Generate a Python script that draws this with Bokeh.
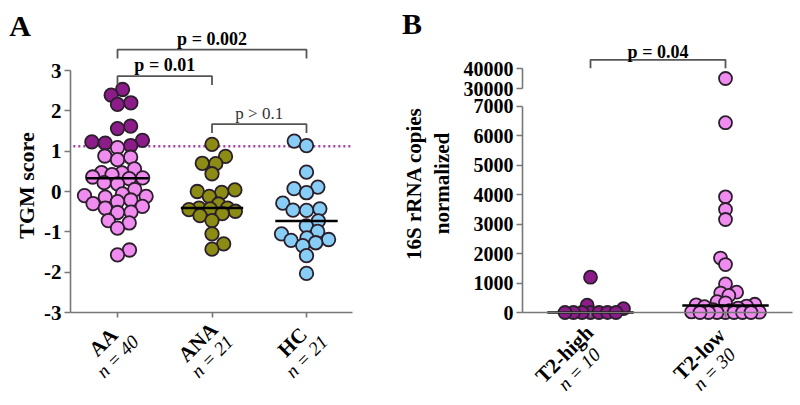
import math
import numpy as np
from bokeh.plotting import figure
from bokeh.models import Label, FixedTicker, Range1d, LinearAxis
from bokeh.layouts import row
from bokeh.embed import file_html
from bokeh.resources import INLINE

# ---------------- data: panel A (TGM score) ----------------
a_groups = ["AA", "ANA", "HC"]
a_n_labels = ["n = 40", "n = 21", "n = 21"]
aa_t2_high = [2.53, 2.39, 2.20, 2.16, 1.62, 1.56, 1.27, 1.23, 1.20, 1.14]
aa_t2_low = [1.09, 0.88, 0.85, 0.79, 0.56, 0.47, 0.46, 0.42, 0.36, 0.34,
             0.32, 0.22, 0.19, 0.05, -0.06, -0.10, -0.12, -0.14, -0.21, -0.25,
             -0.30, -0.37, -0.41, -0.51, -0.52, -0.72, -0.78, -0.91, -1.45, -1.57]
ana_scores = [1.17, 0.87, 0.70, 0.69, 0.44, 0.04, 0.00, -0.02, -0.12, -0.31,
              -0.41, -0.41, -0.43, -0.45, -0.49, -0.55, -0.60, -0.72, -1.05, -1.30, -1.43]
hc_scores = [1.25, 1.14, 0.48, 0.11, 0.07, -0.03, -0.29, -0.43, -0.46, -0.47,
             -0.73, -0.85, -0.99, -1.05, -1.15, -1.19, -1.21, -1.27, -1.34, -1.59, -2.03]
tgm_threshold = 1.12
a_ticks = [-3, -2, -1, 0, 1, 2, 3]
a_pairs = [(0, 2), (0, 1), (1, 2)]
a_pvalues = ["p = 0.002", "p = 0.01", "p > 0.1"]

# ---------------- data: panel B (16S rRNA copies) ----------------
b_groups = ["T2-high", "T2-low"]
b_n_labels = ["n = 10", "n = 30"]
t2_high_copies = [1200, 250, 130, 0, 0, 0, 0, 0, 0, 0]
t2_low_copies = [35000, 6450, 3930, 3500, 3160, 1850, 1630, 970, 690, 660,
                 580, 370, 330, 280, 260, 220, 200, 150, 100, 60,
                 30, 20, 10, 0, 0, 0, 0, 0, 0, 0]
b_low_ticks = [0, 1000, 2000, 3000, 4000, 5000, 6000, 7000]
b_up_ticks = [30000, 40000]
b_pvalue = "p = 0.04"

# ---------------- style ----------------
FONT = "Liberation Serif"
PURPLE = "#8c1c8a"
PINK = "#f08cf0"
OLIVE = "#8c8c14"
BLUE = "#88cdf6"
EDGE = "#2b1f2b"
AXIS = "#777777"
BRACKET = "#555555"


def swarm(ypx, sx, sy, cap):
    """beeswarm offsets (px): elliptical no-overlap zone sx wide, sy tall,
    lowest value first; offsets limited to +-cap (overlap allowed when crowded)"""
    ypx = np.asarray(ypx, float)
    order = np.argsort(ypx, kind="stable")
    placed = []
    offs = np.zeros(len(ypx))
    grid = np.arange(-cap, cap + 0.01, 0.5)
    for k, i in enumerate(order):
        y = ypx[i]
        cands = [0.0]
        for xj, yj in placed:
            dy = abs(y - yj)
            if dy < sy:
                dx = sx * math.sqrt(1 - (dy / sy) ** 2)
                cands.extend([xj + dx, xj - dx])
        sgn = 1 if k % 2 == 0 else -1
        cands.sort(key=lambda c: (round(abs(c), 6), sgn * c))
        chosen = None
        for c in cands:
            if abs(c) <= cap + 1e-6 and all(((c - xj) / sx) ** 2 + ((y - yj) / sy) ** 2 >= 1 - 1e-6
                                            for xj, yj in placed):
                chosen = c
                break
        if chosen is None:
            score = np.full(len(grid), np.inf)
            for xj, yj in placed:
                score = np.minimum(score, ((grid - xj) / sx) ** 2 + ((y - yj) / sy) ** 2)
            best = score.max()
            idx = np.where(score >= best - 1e-9)[0]
            chosen = grid[idx[np.argmin(np.abs(grid[idx]))]]
        offs[i] = chosen
        placed.append((chosen, y))
    return offs


def style_axis(ax, size, ticks):
    ax.ticker = FixedTicker(ticks=ticks)
    ax.axis_line_color = AXIS
    ax.axis_line_width = 1.6
    ax.major_tick_line_color = AXIS
    ax.major_tick_line_width = 1.6
    ax.major_tick_out = 6
    ax.major_tick_in = 0
    ax.minor_tick_line_color = None
    ax.major_label_text_font = FONT
    ax.major_label_text_font_style = "bold"
    ax.major_label_text_font_size = f"{size}px"
    ax.major_label_text_color = "black"
    ax.major_label_standoff = 3
    ax.major_label_overrides = {t: str(t) for t in ticks}


def base_fig(**kw):
    p = figure(output_backend="svg", toolbar_location=None,
               min_border_left=0, min_border_right=0, min_border_top=0, min_border_bottom=0, **kw)
    p.grid.visible = False
    p.outline_line_color = None
    p.background_fill_color = "white"
    p.border_fill_color = "white"
    return p


def text_label(p, **kw):
    kw.setdefault("text_font", FONT)
    kw.setdefault("text_color", "black")
    kw.setdefault("text_align", "center")
    kw.setdefault("text_baseline", "middle")
    p.add_layout(Label(**kw))


def cat_labels(p, xs, y, names, ns, along, perp_b, perp_n, size_b, size_n):
    c = math.sqrt(0.5)
    for x, nm, nn in zip(xs, names, ns):
        for text, perp, st, sz in [(nm, perp_b, "bold", size_b), (nn, perp_n, "italic", size_n)]:
            dx = (along + perp) * c
            dy = (-along + perp) * c
            text_label(p, x=x, y=y, text=text, x_offset=dx, y_offset=-dy, angle=math.pi / 4,
                       text_font_style=st, text_font_size=f"{sz}px")


# ================= Panel A =================
A_PX_X = 94.5      # px per category step
A_PX_Y = 40.33     # px per score unit
A_X0 = 1 - 117 / A_PX_X
A_Y0 = -3 - 93 / A_PX_Y
pa = base_fig(width=400, height=405,
              x_range=Range1d(A_X0, A_X0 + 400 / A_PX_X),
              y_range=Range1d(A_Y0, A_Y0 + 405 / A_PX_Y))
a_axis_x = 1 - 47 / A_PX_X
a_axis_end = 3 + 46 / A_PX_X
style_axis(pa.yaxis[0], 21, a_ticks)
pa.yaxis[0].fixed_location = a_axis_x
pa.yaxis[0].bounds = (a_ticks[0], a_ticks[-1])
style_axis(pa.xaxis[0], 20, [1, 2, 3])
pa.xaxis[0].fixed_location = a_ticks[0]
pa.xaxis[0].bounds = (a_axis_x, a_axis_end)
pa.xaxis[0].major_tick_out = 5
pa.xaxis[0].major_label_text_font_size = "0px"

pa.segment(x0=[a_axis_x + 0.03], x1=[a_axis_end], y0=[tgm_threshold], y1=[tgm_threshold],
           line_color="#a63aa6", line_dash="2 3", line_width=2.5)

a_sets = [
    (aa_t2_high + aa_t2_low, [PURPLE] * len(aa_t2_high) + [PINK] * len(aa_t2_low)),
    (ana_scores, [OLIVE] * len(ana_scores)),
    (hc_scores, [BLUE] * len(hc_scores)),
]
a_caps = [33, 25, 25]
for gi, (vals, cols) in enumerate(a_sets):
    offs = swarm(np.array(vals) * A_PX_Y, 13.5, 10.5, a_caps[gi])
    xs = (gi + 1) + offs / A_PX_X
    pa.scatter(x=xs, y=vals, marker="circle", size=13.5, fill_color=cols,
               line_color=EDGE, line_width=1.8)
for gi, (vals, cols) in enumerate(a_sets):
    med = float(np.median(vals))
    pa.segment(x0=[gi + 1 - 0.33], x1=[gi + 1 + 0.33], y0=[med], y1=[med],
               line_color="black", line_width=2.5)

a_levels = [3.52, 2.86, 1.67]
for (i, j), txt, lev in zip(a_pairs, a_pvalues, a_levels):
    x0, x1 = i + 1, j + 1
    pa.multi_line(xs=[[x0, x0, x1, x1]], ys=[[lev - 0.22, lev, lev, lev - 0.22]],
                  line_color=BRACKET, line_width=1.8)
    bold = txt.startswith("p =")
    text_label(pa, x=(x0 + x1) / 2, y=lev, y_offset=11, text=txt,
               text_font_style="bold" if bold else "normal",
               text_font_size="18px" if bold else "17px",
               text_color="black" if bold else "#333333")

text_label(pa, x=1 - 91 / A_PX_X, y=-3 + (312 - 185) / A_PX_Y, text="TGM score",
           angle=math.pi / 2, text_font_style="bold", text_font_size="22px")
text_label(pa, x=1 - 97.5 / A_PX_X, y=-3 + (312 - 25) / A_PX_Y, text="A",
           text_font_style="bold", text_font_size="30px")
cat_labels(pa, [1, 2, 3], -3, a_groups, a_n_labels, -31, 11, 31, 21, 19)

# ================= Panel B =================
B_PX_X = 135.0       # px per category step
B_LOW_PX = 0.02943   # px per copy, lower segment
B_UP_PX = 0.002      # px per copy, upper segment
B_X0 = 1 - 190 / B_PX_X
B_Y0 = -93 / B_LOW_PX
pb = base_fig(width=400, height=405,
              x_range=Range1d(B_X0, B_X0 + 400 / B_PX_X),
              y_range=Range1d(B_Y0, B_Y0 + 405 / B_LOW_PX))
up0 = b_up_ticks[0] - (405 - 88) / B_UP_PX
pb.extra_y_ranges = {"upper": Range1d(up0, up0 + 405 / B_UP_PX)}
b_axis_x = 1 - 68 / B_PX_X
b_axis_end = 1 + 202 / B_PX_X

style_axis(pb.yaxis[0], 20, b_low_ticks)
pb.yaxis[0].fixed_location = b_axis_x
pb.yaxis[0].bounds = (b_low_ticks[0], b_low_ticks[-1])
ax_up = LinearAxis(y_range_name="upper")
style_axis(ax_up, 20, b_up_ticks)
ax_up.fixed_location = b_axis_x
ax_up.bounds = (b_up_ticks[0], b_up_ticks[-1])
pb.add_layout(ax_up, "left")
style_axis(pb.xaxis[0], 19, [1, 2])
pb.xaxis[0].fixed_location = 0
pb.xaxis[0].bounds = (b_axis_x, b_axis_end)
pb.xaxis[0].major_tick_out = 5
pb.xaxis[0].major_label_text_font_size = "0px"

BREAK = b_low_ticks[-1]
for gi, (vals, col) in enumerate([(t2_high_copies, PURPLE), (t2_low_copies, PINK)]):
    v = np.array(vals, float)
    ypx = np.where(v <= BREAK, v * B_LOW_PX, 224 + (v - b_up_ticks[0]) * B_UP_PX)
    offs = swarm(ypx, 8.5, 8.0, 38)
    xs = (gi + 1) + offs / B_PX_X
    lo = v <= BREAK
    pb.scatter(x=xs[lo], y=v[lo], marker="circle", size=13, fill_color=col,
               line_color=EDGE, line_width=1.8)
    if (~lo).any():
        pb.scatter(x=xs[~lo], y=v[~lo], marker="circle", size=13, fill_color=col,
                   line_color=EDGE, line_width=1.8, y_range_name="upper")
for gi, vals in enumerate([t2_high_copies, t2_low_copies]):
    med = float(np.median(vals))
    pb.segment(x0=[gi + 1 - 0.32], x1=[gi + 1 + 0.32], y0=[med], y1=[med],
               line_color="black", line_width=2.5)

lev = b_up_ticks[0] + (88 - 59.3) / B_UP_PX
leg = 8.4 / B_UP_PX
pb.multi_line(xs=[[1, 1, 2, 2]], ys=[[lev - leg, lev, lev, lev - leg]],
              line_color=BRACKET, line_width=1.8, y_range_name="upper")
text_label(pb, x=1.5, y=lev, y_offset=8, text=b_pvalue, text_font_style="bold",
           text_font_size="18px", y_range_name="upper")
text_label(pb, x=1 - (590 - 411.5) / B_PX_X, y=(312 - 22.5) / B_LOW_PX, text="B",
           text_font_style="bold", text_font_size="30px")

ytitle = (312 - 183) / B_LOW_PX
for txt, xref in [("16S rRNA copies", 413), ("normalized", 441)]:
    text_label(pb, x=1 - (590 - xref) / B_PX_X, y=ytitle, text=txt, angle=math.pi / 2,
               text_font_style="bold", text_font_size="21px")
cat_labels(pb, [1, 2], 0, b_groups, b_n_labels, -48, 11, 32, 21, 19)

layout = row(pa, pb)
open("out.html", "w").write(file_html(layout, INLINE))
